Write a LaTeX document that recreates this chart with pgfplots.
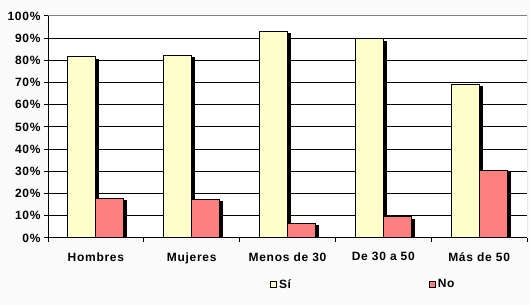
\documentclass[border=0pt]{standalone}
\usepackage{pgfplots}
\pgfplotsset{compat=1.18}
\usepackage{fontspec}
\setmainfont[LetterSpace=6]{Liberation Sans}
\usetikzlibrary{shadows}
\definecolor{si}{HTML}{FFFFCC}
\definecolor{no}{HTML}{FF8080}
\pgfplotsset{sqlegend/.style={legend image code/.code={\draw[##1] (0pt,-3pt) rectangle (6pt,3pt);}}}
\begin{document}
\begin{tikzpicture}[x=1pt,y=1pt]
\fill[black!2] (0,0) rectangle (530,305);
\useasboundingbox (0,0) rectangle (530,305);
\begin{axis}[
  at={(48pt,67pt)}, anchor=south west,
  scale only axis, width=479pt, height=222pt,
  xmin=-0.5, xmax=4.5, ymin=0, ymax=100,
  axis background/.style={fill=white},
  ybar, bar width=28pt,
  xtick={-0.5,0.5,...,4.5}, xticklabels={},
  extra x ticks={0,1,2,3,4},
  extra x tick labels={Hombres,Mujeres,Menos de 30,De 30 a 50,Más de 50},
  extra x tick style={major tick length=0pt, grid=none, xticklabel style={yshift=-11pt}},
  ytick={0,10,...,100},
  yticklabel={\pgfmathprintnumber[assume math mode=true]{\tick}\%},
  ymajorgrids, grid style={black, line width=1pt},
  tick align=outside, tick pos=left, major tick length=4pt,
  tick style={black, line width=1pt},
  axis line style={draw=none},
  ticklabel style={font=\bfseries\fontsize{12}{13}\selectfont},
  legend style={draw=none, fill=none, at={(0.4635,-0.2095)}, anchor=west,
    font=\bfseries\fontsize{12}{13}\selectfont, inner sep=0pt},
  legend columns=2,
]
\addplot[fill=si, draw=black, line width=1pt, forget plot, bar shift=-14pt,
  drop shadow={shadow xshift=3pt, shadow yshift=-2.5pt, fill=black, opacity=1}]
  coordinates {(0,81.7) (1,82.4) (2,93.1) (3,89.8) (4,69.2)};
\addplot[fill=no, draw=black, line width=1pt, forget plot, bar shift=14pt,
  drop shadow={shadow xshift=3pt, shadow yshift=-2.5pt, fill=black, opacity=1}]
  coordinates {(0,17.9) (1,17.4) (2,6.6) (3,9.6) (4,30.5)};
\addlegendimage{sqlegend, fill=si, draw=black, line width=0.8pt}
\addlegendentry{\makebox[148pt][l]{Sí}}
\addlegendimage{sqlegend, fill=no, draw=black, line width=0.8pt}
\addlegendentry{No}
\draw[gray, line width=1pt] (rel axis cs:0,1) -- (rel axis cs:1,1) -- (rel axis cs:1,0);
\draw[black, line width=1pt] (rel axis cs:0,1) -- (rel axis cs:0,0) -- (rel axis cs:1,0);
\end{axis}
\end{tikzpicture}
\end{document}
